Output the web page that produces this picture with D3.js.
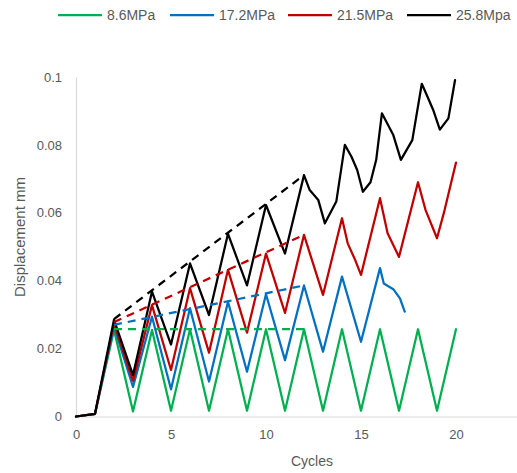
<!DOCTYPE html>
<html>
<head>
<meta charset="utf-8">
<script src="https://cdn.jsdelivr.net/npm/d3@7"></script>
<style>
  body { margin: 0; background: #fff; }
  text { font-family: "Liberation Sans", Arial, sans-serif; fill: #595959; }
</style>
</head>
<body>
<div id="chart"></div>
<script>
var svgWidth = 517;
var svgHeight = 473;

// series data
var seriesNames = ["8.6MPa", "17.2MPa", "21.5MPa", "25.8Mpa"];
var seriesColors = ["#00B050", "#0070C0", "#C00000", "#000000"];

var greenCycles = [0, 1, 2, 3, 4, 5, 6, 7, 8, 9, 10, 11, 12, 13, 14, 15, 16, 17, 18, 19, 20];
var greenDisp = [0, 0.0007, 0.0255, 0.0015, 0.0255, 0.0017, 0.0257, 0.0017, 0.0257, 0.0017, 0.0257,
  0.0017, 0.0257, 0.0017, 0.0257, 0.0017, 0.0257, 0.0017, 0.0257, 0.0017, 0.0257];

var blueCycles = [0, 1, 2, 3, 4, 5, 6, 7, 8, 9, 10, 11, 12, 13, 14, 15, 16, 16.2, 16.7, 17.05, 17.3];
var blueDisp = [0, 0.0008, 0.0265, 0.0087, 0.0294, 0.008, 0.0319, 0.0103, 0.0338, 0.0132, 0.036,
  0.0166, 0.0386, 0.0191, 0.0412, 0.022, 0.0437, 0.0392, 0.0375, 0.0348, 0.0309];

var redCycles = [0, 1, 2, 3, 4, 5, 6, 7, 8, 9, 10, 11, 12, 13, 14, 14.3, 14.7, 15, 16, 16.4, 17, 18, 18.4, 19, 19.4, 20];
var redDisp = [0, 0.0008, 0.0275, 0.0105, 0.0328, 0.0137, 0.0378, 0.0188, 0.0432, 0.0247, 0.048,
  0.0305, 0.0535, 0.0358, 0.0584, 0.051, 0.046, 0.0417, 0.0643, 0.054, 0.047, 0.069, 0.0608,
  0.0525, 0.0608, 0.0748];

var blackCycles = [0, 1, 2, 3, 4, 5, 6, 7, 8, 9, 10, 11, 12, 12.3, 12.75, 13.1, 13.7, 14.15, 14.5,
  14.8, 15.1, 15.5, 15.8, 16.1, 16.7, 17.1, 17.7, 18.2, 18.5, 18.8, 19.15, 19.6, 19.95];
var blackDisp = [0, 0.0008, 0.0285, 0.0122, 0.0368, 0.0212, 0.0451, 0.0299, 0.0538, 0.0386, 0.0623,
  0.048, 0.0711, 0.0667, 0.0638, 0.0569, 0.0633, 0.08, 0.0765, 0.0726, 0.0662, 0.069, 0.0756,
  0.0893, 0.0829, 0.0756, 0.0814, 0.098, 0.0942, 0.0903, 0.0845, 0.0878, 0.0991];

// dashed envelope lines over the peaks (cycle 2 to cycle 12)
var trendCycles = [2, 12];
var greenTrend = [0.0257, 0.0257];
var blueTrend = [0.027, 0.0386];
var redTrend = [0.0278, 0.0535];
var blackTrend = [0.0287, 0.0711];

var xTicks = [0, 5, 10, 15, 20];
var yTicks = [0, 0.02, 0.04, 0.06, 0.08, 0.1];

var svg = d3.select("#chart")
  .append("svg")
  .attr("width", svgWidth)
  .attr("height", svgHeight);

// x runs to 25 but the picture is cropped on the right
var xScale = d3.scaleLinear().domain([0, 25]).range([76, 551]);
var yScale = d3.scaleLinear().domain([0, 0.1]).range([416.5, 77]);

// axes (light grey lines, no tick marks)
var xAxis = d3.axisBottom(xScale).tickValues(xTicks).tickSize(0).tickPadding(13)
  .tickFormat(d3.format("d"));
var yAxis = d3.axisLeft(yScale).tickValues(yTicks).tickSize(0).tickPadding(14)
  .tickFormat(function (d) { return d === 0 ? "0" : String(+d.toFixed(2)); });

var gx = svg.append("g").attr("transform", "translate(0," + yScale(0) + ")").call(xAxis);
var gy = svg.append("g").attr("transform", "translate(" + xScale(0) + ",0)").call(yAxis);
[gx, gy].forEach(function (g) {
  g.select(".domain").attr("stroke", "#D9D9D9").attr("stroke-width", 1.2);
  g.selectAll("text").attr("font-size", 13).attr("fill", "#595959")
    .attr("font-family", "Liberation Sans, Arial, sans-serif");
});

// axis titles
svg.append("text")
  .attr("x", 312).attr("y", 466)
  .attr("text-anchor", "middle")
  .attr("font-size", 14)
  .text("Cycles");

svg.append("text")
  .attr("transform", "translate(25,237) rotate(-90)")
  .attr("text-anchor", "middle")
  .attr("font-size", 15)
  .text("Displacement mm");

var line = d3.line()
  .x(d => xScale(d[0]))
  .y(d => yScale(d[1]));

var solid = [
  [greenCycles, greenDisp],
  [blueCycles, blueDisp],
  [redCycles, redDisp],
  [blackCycles, blackDisp]
];
var dashed = [greenTrend, blueTrend, redTrend, blackTrend];

var plot = svg.append("g");

solid.forEach(function (s, i) {
  var pts = s[0].map((c, j) => [c, s[1][j]]);
  plot.append("path")
    .datum(pts)
    .attr("d", line)
    .attr("fill", "none")
    .attr("stroke", seriesColors[i])
    .attr("stroke-width", 2.25)
    .attr("stroke-linejoin", "round")
    .attr("stroke-linecap", "round");
});

dashed.forEach(function (t, i) {
  var pts = trendCycles.map((c, j) => [c, t[j]]);
  plot.append("path")
    .datum(pts)
    .attr("d", line)
    .attr("fill", "none")
    .attr("stroke", seriesColors[i])
    .attr("stroke-width", 2.25)
    .attr("stroke-dasharray", "8,6");
});

// legend
var legendX = [58, 170, 288, 407];
var legend = svg.append("g");
seriesNames.forEach(function (name, i) {
  legend.append("line")
    .attr("x1", legendX[i]).attr("x2", legendX[i] + 44)
    .attr("y1", 15).attr("y2", 15)
    .attr("stroke", seriesColors[i])
    .attr("stroke-width", 2.25);
  legend.append("text")
    .attr("x", legendX[i] + 49).attr("y", 20)
    .attr("font-size", 14)
    .text(name);
});
</script>
</body>
</html>
